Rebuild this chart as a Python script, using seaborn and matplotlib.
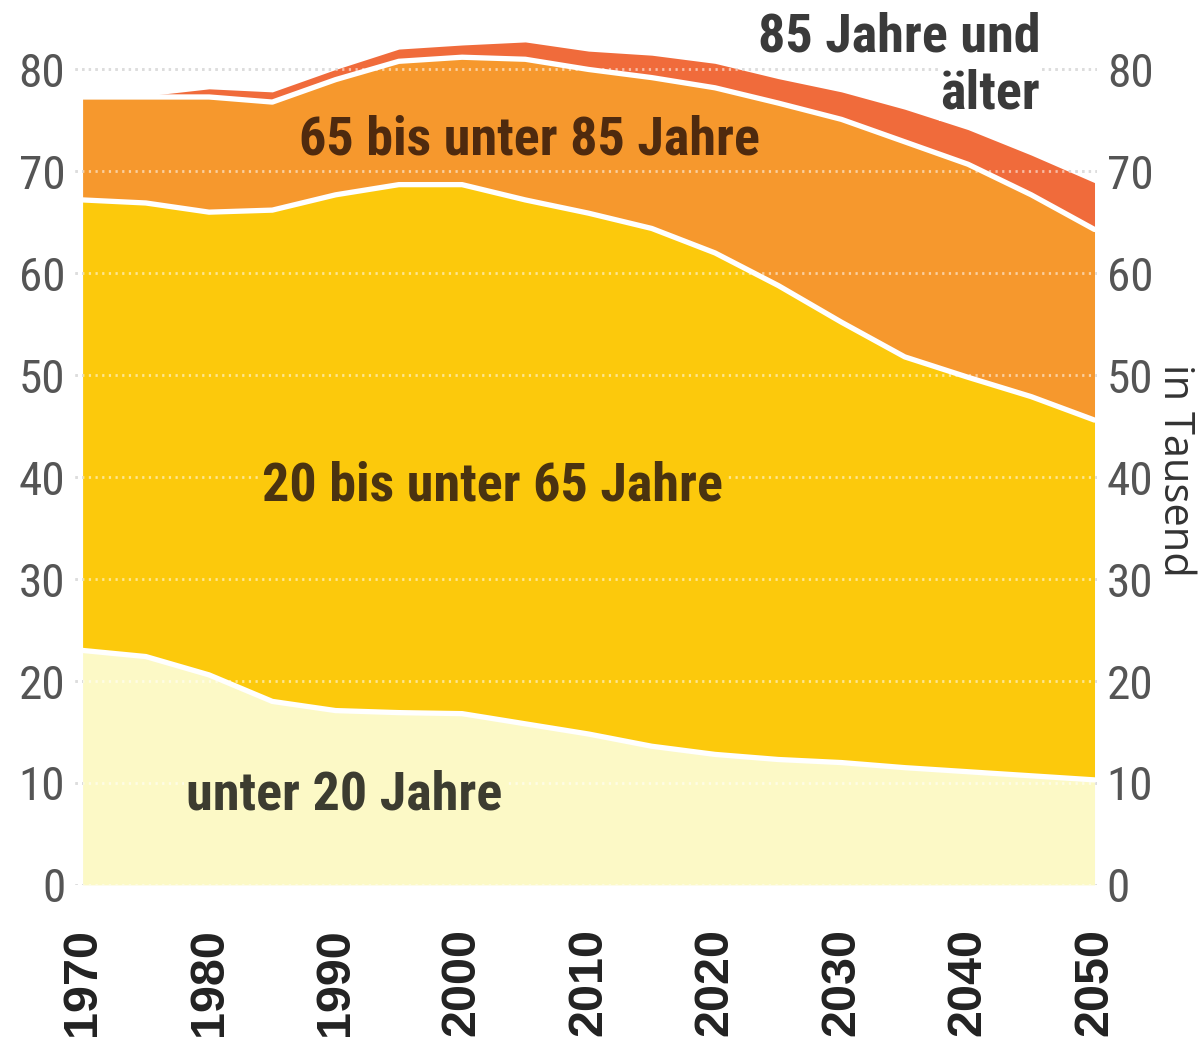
import matplotlib
matplotlib.use("Agg")

import numpy as np
import pandas as pd
import matplotlib.pyplot as plt
import seaborn as sns
from matplotlib import font_manager

# population by age group, in thousands
years = [1970, 1975, 1980, 1985, 1990, 1995, 2000, 2005, 2010,
         2015, 2020, 2025, 2030, 2035, 2040, 2045, 2050]
under_20 = [23.0, 22.4, 20.6, 18.0, 17.1, 16.9, 16.8, 15.8, 14.8,
            13.6, 12.8, 12.3, 12.0, 11.5, 11.1, 10.7, 10.3]
age_20_65 = [44.2, 44.5, 45.4, 48.2, 50.6, 51.8, 51.9, 51.4, 51.1,
             50.8, 49.2, 46.5, 43.2, 40.3, 38.7, 37.2, 35.3]
age_65_85 = [10.1, 10.4, 11.3, 10.6, 11.3, 12.1, 12.5, 13.8, 14.1,
             14.8, 16.2, 17.9, 19.9, 21.1, 20.9, 19.8, 18.7]
age_85_plus = [0.0, 0.1, 0.8, 1.0, 1.0, 1.2, 1.2, 1.7, 1.8,
               2.2, 2.4, 2.4, 2.7, 3.2, 3.4, 3.9, 4.6]

band_names = ["unter 20 Jahre", "20 bis unter 65 Jahre",
              "65 bis unter 85 Jahre", "85 Jahre und älter"]
band_colors = ["#fcf9c6", "#fcc90c", "#f6982d", "#f06b3b"]

y_ticks = [0, 10, 20, 30, 40, 50, 60, 70, 80]
x_ticks = [1970, 1980, 1990, 2000, 2010, 2020, 2030, 2040, 2050]


def pick_font(candidates):
    names = {f.name for f in font_manager.fontManager.ttflist}
    for name in candidates:
        if name in names:
            return name
    return "DejaVu Sans"


sns.set_theme(style="white")
narrow = pick_font(["Liberation Sans Narrow", "Roboto Condensed", "Liberation Sans"])
bold_font = pick_font(["Liberation Sans", "Roboto", "DejaVu Sans"])
plain = pick_font(["Open Sans", "DejaVu Sans"])
plt.rcParams["font.family"] = [narrow, "DejaVu Sans"]

df = pd.DataFrame({"year": years, band_names[0]: under_20, band_names[1]: age_20_65,
                   band_names[2]: age_65_85, band_names[3]: age_85_plus})
cum = df[band_names].cumsum(axis=1)
cum["year"] = df["year"]

fig = plt.figure(figsize=(12, 10.61), dpi=100)
ax = fig.add_axes([0.0625, 0.166, 0.8517, 0.806])

# dotted grid: grey on the white background, light dots over the coloured bands
ax.hlines(y_ticks, 1969.4, 2050.2, colors="#b5b5b5", linewidth=2,
          linestyles=(0, (0.8, 1.6)), zorder=0)
ax.stackplot(df["year"], *[df[c] for c in band_names], colors=band_colors,
             linewidth=0, zorder=1)
ax.hlines(y_ticks, 1969.4, 2050.2, colors="white", alpha=0.55, linewidth=2,
          linestyles=(0, (0.8, 1.6)), zorder=1.5)

# white separators between the bands
for name in band_names[:3]:
    sns.lineplot(data=cum, x="year", y=name, color="white", linewidth=3.8,
                 ax=ax, zorder=2)

ax.set_xlim(1969.4, 2050.2)
ax.set_ylim(0, 83.9)
ax.set_xlabel("")
ax.set_ylabel("")
sns.despine(ax=ax, left=True, bottom=True)

ax.set_yticks(y_ticks)
ax.set_yticklabels([str(v) for v in y_ticks], fontsize=34, color="#555555")
ax.tick_params(axis="y", length=0, pad=7, labelright=True)
ax.set_xticks(x_ticks)
ax.set_xticklabels([str(v) for v in x_ticks], rotation=90, fontsize=35,
                   fontweight="bold", color="#222222", family=bold_font)
ax.tick_params(axis="x", length=0, pad=31)

fig.text(0.979, 0.557, "in Tausend", rotation=270, fontsize=30, color="#333333",
         family=plain, ha="center", va="center")

# band labels
ax.text(2005.3, 73.1, band_names[2], fontsize=39, fontweight="bold",
        color="#4f2a0e", ha="center", va="center", zorder=3)
ax.text(2002.4, 39.1, band_names[1], fontsize=39, fontweight="bold",
        color="#4a3310", ha="center", va="center", zorder=3,
        bbox=dict(facecolor=band_colors[1], edgecolor="none", pad=2))
ax.text(1990.7, 8.8, band_names[0], fontsize=39, fontweight="bold",
        color="#3c3c30", ha="center", va="center", zorder=3,
        bbox=dict(facecolor=band_colors[0], edgecolor="none", pad=2))
ax.text(2045.7, 83.2, "85 Jahre und", fontsize=39, fontweight="bold",
        color="#3a3a3a", ha="right", va="center", zorder=3, clip_on=False)
ax.text(2045.7, 77.6, "älter", fontsize=39, fontweight="bold",
        color="#3a3a3a", ha="right", va="center", zorder=3,
        bbox=dict(facecolor="white", edgecolor="none", pad=1))

fig.savefig("out.png", dpi=100, facecolor="white")
